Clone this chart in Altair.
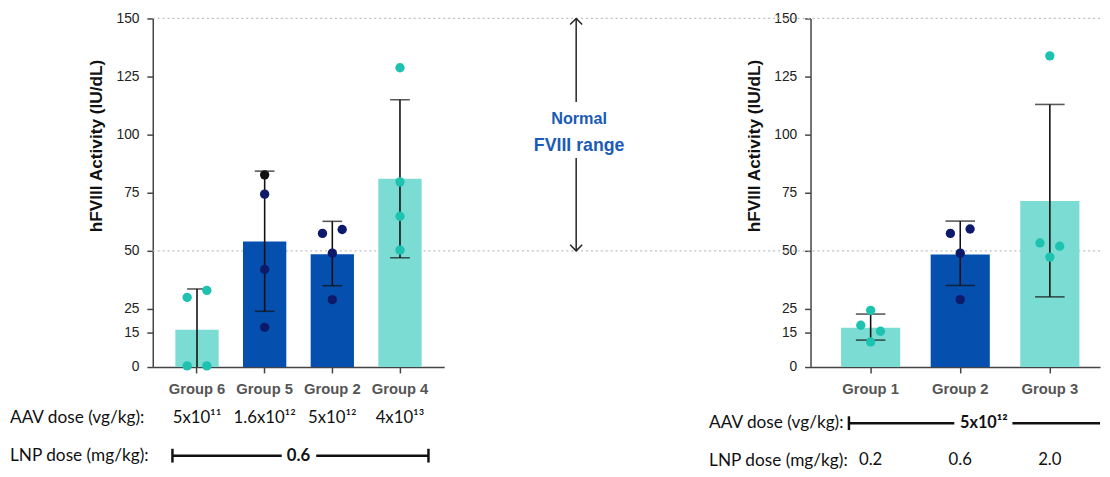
import altair as alt
import pandas as pd

# ---------------- data: left panel ----------------
left_groups = ["Group 6", "Group 5", "Group 2", "Group 4"]
left_means = [16, 54, 48.5, 81]
left_err_lo = [0, 24, 35, 47]
left_err_hi = [33.6, 84.3, 62.7, 115]
left_kind = ["bar_teal", "bar_blue", "bar_blue", "bar_teal"]
left_aav = ["5x10¹¹", "1.6x10¹²", "5x10¹²", "4x10¹³"]

left_pt_group = ["Group 6"] * 4 + ["Group 5"] * 4 + ["Group 2"] * 4 + ["Group 4"] * 4
left_pt_value = [30, 33, 0.5, 0.5, 82.7, 74.4, 42, 17.1, 57.5, 59.2, 49, 29, 128.8, 79.7, 64.9, 50.3]
left_pt_side = ["L", "R", "L", "R", "C", "C", "C", "C", "L", "R", "C", "C", "C", "C", "C", "C"]
left_pt_kind = ["pt_teal"] * 4 + ["pt_black", "pt_navy", "pt_navy", "pt_navy"] + ["pt_navy"] * 4 + ["pt_teal"] * 4

# ---------------- data: right panel ----------------
right_groups = ["Group 1", "Group 2", "Group 3"]
right_means = [16.9, 48.4, 71.4]
right_err_lo = [11.6, 35.1, 30.2]
right_err_hi = [22.8, 62.8, 113]
right_kind = ["bar_teal", "bar_blue", "bar_teal"]
right_lnp = ["0.2", "0.6", "2.0"]

right_pt_group = ["Group 1"] * 4 + ["Group 2"] * 4 + ["Group 3"] * 4
right_pt_value = [24.4, 18, 15.4, 10.8, 57.5, 59.4, 49, 29, 133.9, 53.4, 52, 47.3]
right_pt_side = ["C", "L", "R", "C", "L", "R", "C", "C", "C", "L", "R", "C"]
right_pt_kind = ["pt_teal"] * 4 + ["pt_navy"] * 4 + ["pt_teal"] * 4

# reference lines / annotation
ref_lines = [50, 150]
arrow_from = [114, 90]
arrow_to = [150, 50]

y_ticks = [0, 15, 25, 50, 75, 100, 125, 150]
color_domain = ["bar_teal", "bar_blue", "pt_teal", "pt_navy", "pt_black"]
color_range = ["#7adcd2", "#0550ae", "#1ec2b0", "#0d1a6b", "#111111"]

AXIS_FONT = "Liberation Sans"
TEXT_FONT = "Lato"
H = 354


def y_enc(field):
    return alt.Y(
        field,
        scale=alt.Scale(domain=[0, 150], nice=False, zero=True),
        axis=alt.Axis(
            values=y_ticks, title="hFVIII Activity (IU/dL)", titleFont=AXIS_FONT,
            titleFontSize=17.5, titleFontWeight="bold", titleColor="#111",
            titleX=-48, titleY=129, titleAlign="center", titleBaseline="bottom",
            labelFont=AXIS_FONT, labelFontSize=14, labelColor="#222",
            tickSize=6, labelPadding=8, domainColor="#444", tickColor="#444",
            domainWidth=1.5, tickWidth=1.5, grid=False,
        ),
    )


def x_enc(groups, rng, pi, po, align):
    return alt.X(
        "g:N", sort=groups,
        scale=alt.Scale(range=rng, paddingInner=pi, paddingOuter=po, align=align),
        axis=alt.Axis(
            title=None, labelAngle=0, labelFont=AXIS_FONT, labelFontSize=15,
            labelFontWeight="bold", labelColor="#555", tickSize=6, labelPadding=9,
            domainColor="#444", tickColor="#444", domainWidth=1.5, tickWidth=1.5,
        ),
    )


def panel(groups, means, lo, hi, kind, pg, pv, ps, pk, width, rng, pi, po, align, cap, jit, grid_x0):
    bars = pd.DataFrame({"g": groups, "m": means, "lo": lo, "hi": hi, "k": kind})
    pts = pd.DataFrame({"g": pg, "v": pv, "side": ps, "k": pk})
    X = x_enc(groups, rng, pi, po, align)
    col = alt.Color("k:N", scale=alt.Scale(domain=color_domain, range=color_range), legend=None)

    grid = alt.Chart(pd.DataFrame({"r": ref_lines})).mark_rule(
        color="#bdbdbd", strokeDash=[2, 3], strokeWidth=1.2
    ).encode(y=y_enc("r:Q"), x=alt.value(grid_x0), x2=alt.value(width))

    bar = alt.Chart(bars).mark_bar().encode(x=X, y=y_enc("m:Q"), color=col)
    err = alt.Chart(bars).mark_rule(color="#111", strokeWidth=1.6).encode(
        x=X, y=y_enc("lo:Q"), y2="hi:Q")
    cap_hi = alt.Chart(bars).mark_tick(color="#111", thickness=1.6, size=cap).encode(
        x=X, y=y_enc("hi:Q"))
    cap_lo = alt.Chart(bars).mark_tick(color="#111", thickness=1.6, size=cap).encode(
        x=X, y=y_enc("lo:Q")).transform_filter("datum.lo > 0")

    layers = [grid, bar, err, cap_hi, cap_lo]
    for side, off in [("L", -jit), ("C", 0), ("R", jit)]:
        layers.append(
            alt.Chart(pts).mark_circle(size=90, opacity=1, xOffset=off)
            .encode(x=X, y=y_enc("v:Q"), color=col)
            .transform_filter(alt.datum.side == side)
        )
    return bars, X, layers


one = pd.DataFrame({"a": [0]})


def label(txt, x, y, size=17.5, weight="normal", align="left"):
    return alt.Chart(one).mark_text(
        font=TEXT_FONT, fontSize=size, fontWeight=weight, align=align,
        baseline="middle", color="#111",
    ).encode(x=alt.value(x), y=alt.value(y), text=alt.value(txt))


def hseg(x0, x1, y):
    return alt.Chart(one).mark_rule(color="#111", strokeWidth=2.5).encode(
        x=alt.value(x0), x2=alt.value(x1), y=alt.value(y))


def vseg(x, y0, y1):
    return alt.Chart(one).mark_rule(color="#111", strokeWidth=2.5).encode(
        x=alt.value(x), y=alt.value(y0), y2=alt.value(y1))


# ---------------- left panel ----------------
LW = 563
lbars, LX, left_layers = panel(
    left_groups, left_means, left_err_lo, left_err_hi, left_kind,
    left_pt_group, left_pt_value, left_pt_side, left_pt_kind,
    LW, [0, 296], 0.36, 0.334, 0.5, 20, 10, 0,
)

arrows = pd.DataFrame({"a": arrow_from, "b": arrow_to})
shafts = alt.Chart(arrows).mark_rule(color="#222", strokeWidth=1.5).encode(
    x=alt.value(430), y=y_enc("a:Q"), y2="b:Q")
head_up = alt.Chart(pd.DataFrame({"t": [arrow_to[0]]})).mark_point(
    shape="M-1,1L0,0L1,1", filled=False, size=150, color="#222", strokeWidth=1.5, opacity=1
).encode(x=alt.value(430), y=y_enc("t:Q"))
head_dn = alt.Chart(pd.DataFrame({"t": [arrow_to[1]]})).mark_point(
    shape="M-1,-1L0,0L1,-1", filled=False, size=150, color="#222", strokeWidth=1.5, opacity=1
).encode(x=alt.value(430), y=y_enc("t:Q"))
txt_normal = alt.Chart(one).mark_text(
    font=AXIS_FONT, fontSize=16.5, fontWeight="bold", color="#1a5bb5", baseline="middle"
).encode(x=alt.value(433), y=alt.value(102), text=alt.value("Normal"))
txt_range = alt.Chart(one).mark_text(
    font=AXIS_FONT, fontSize=18, fontWeight="bold", color="#1a5bb5", baseline="middle"
).encode(x=alt.value(433), y=alt.value(130), text=alt.value("FVIII range"))

l_aav_vals = alt.Chart(lbars.assign(t=left_aav)).mark_text(
    font=TEXT_FONT, fontSize=17, baseline="middle", color="#111").encode(
    x=LX, y=alt.value(406), text="t:N")

left = alt.layer(
    *left_layers, shafts, head_up, head_dn, txt_normal, txt_range,
    label("AAV dose (vg/kg):", -145, 406), label("LNP dose (mg/kg):", -145, 444),
    l_aav_vals,
    hseg(20, 131, 444), hseg(166, 280, 444), vseg(20, 437, 451), vseg(280, 437, 451),
    label("0.6", 148, 444, size=17, weight="bold", align="center"),
).properties(width=LW, height=H)

# ---------------- right panel ----------------
RW = 294
rbars, RX, right_layers = panel(
    right_groups, right_means, right_err_lo, right_err_hi, right_kind,
    right_pt_group, right_pt_value, right_pt_side, right_pt_kind,
    RW, [0, 294], 0.34, 0.2855, 0.597, 30, 10, -103,
)

r_lnp_vals = alt.Chart(rbars.assign(t=right_lnp)).mark_text(
    font=TEXT_FONT, fontSize=17, baseline="middle", color="#111").encode(
    x=RX, y=alt.value(448), text="t:N")

right = alt.layer(
    *right_layers,
    label("AAV dose (vg/kg):", -103, 411), label("LNP dose (mg/kg):", -103, 450),
    r_lnp_vals,
    hseg(39, 146, 411), hseg(205, RW, 411), vseg(39, 404, 418),
    label("5x10¹²", 176, 411, size=16.5, weight="bold", align="center"),
).properties(width=RW, height=H)

chart = (
    alt.hconcat(left, right, spacing=0)
    .properties(padding={"left": 2, "top": 0, "right": 0, "bottom": 0}, background="white")
    .configure_view(stroke=None)
)

chart.save("out.html", embed_options={"renderer": "svg", "actions": False})
